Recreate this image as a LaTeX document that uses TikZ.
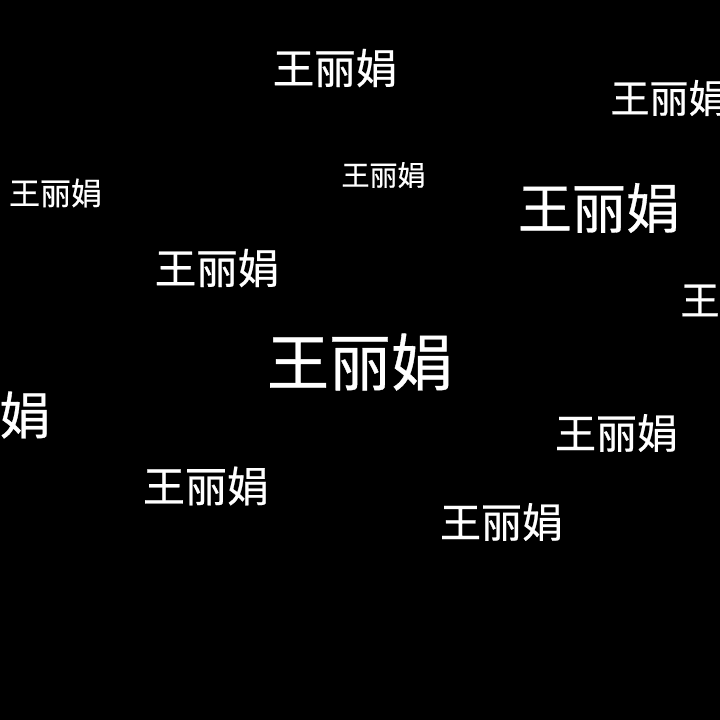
\documentclass[tikz,border=0pt]{standalone}
\usepackage{fontspec}
\newfontfamily\cjk[FakeBold=0.6]{Noto Sans CJK SC}
\begin{document}
\begin{tikzpicture}[x=1pt,y=-1pt,
  nm/.style={text=white,inner sep=0pt,anchor=center}]
\useasboundingbox (0,0) rectangle (720,720);
\fill[black] (0,0) rectangle (720,720);
\clip (0,0) rectangle (720,720);
\newcommand\nmtext[1]{{\cjk\fontsize{#1}{#1}\selectfont 王丽娟}}
\node[nm] (n1) at (335,68) {\nmtext{41.5}};
\node[nm] (n2) at (669,98) {\nmtext{39}};
\node[nm] (n3) at (383.5,175) {\nmtext{28}};
\node[nm] (n4) at (55.5,193) {\nmtext{31}};
\node[nm] (n5) at (599,208) {\nmtext{54}};
\node[nm] (n6) at (217,268) {\nmtext{41.5}};
\node[nm] (n7) at (739,300) {\nmtext{39}};
\node[nm] (n8) at (360,362) {\nmtext{62}};
\node[nm] (n9) at (-26,415) {\nmtext{51}};
\node[nm] (n10) at (616.5,433) {\nmtext{41}};
\node[nm] (n11) at (206,486) {\nmtext{42}};
\node[nm] (n12) at (501.5,522) {\nmtext{41}};
\end{tikzpicture}
\end{document}
